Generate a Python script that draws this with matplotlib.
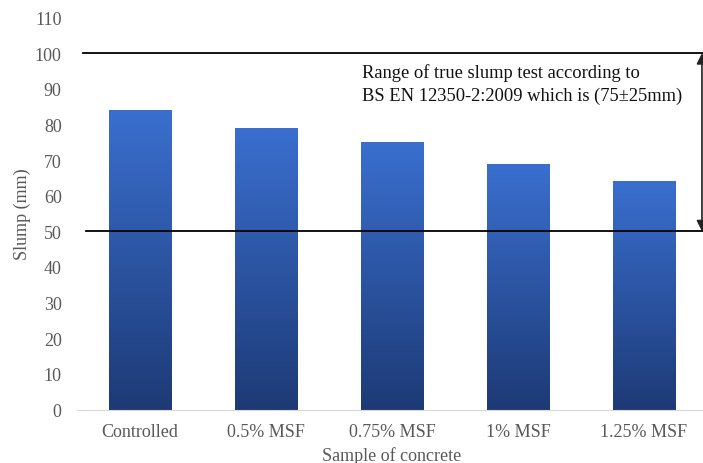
import matplotlib.pyplot as plt
import numpy as np
from matplotlib.colors import LinearSegmentedColormap

samples = ["Controlled", "0.5% MSF", "0.75% MSF", "1% MSF", "1.25% MSF"]
slump = [84, 79, 75, 69, 64]
range_low, range_high = 50, 100
note = "Range of true slump test according to\nBS EN 12350-2:2009 which is (75±25mm)"

plt.rcParams["font.family"] = ["Liberation Serif", "DejaVu Serif"]
grey = "#595959"

fig = plt.figure(figsize=(7.03, 4.64), dpi=100)
ax = fig.add_axes([77 / 703, 53.5 / 464, 630 / 703, 392 / 464])

x = np.arange(len(samples))
bars = ax.bar(x, slump, width=0.5, color="none", edgecolor="none")

# vertical blue gradient inside each bar
cmap = LinearSegmentedColormap.from_list("bar", ["#1d3a75", "#3a6fcf"])
grad = np.linspace(0, 1, 256).reshape(-1, 1)
for b in bars:
    bx, bw, bh = b.get_x(), b.get_width(), b.get_height()
    im = ax.imshow(grad, cmap=cmap, origin="lower", aspect="auto",
                   extent=(bx, bx + bw, 0, bh), zorder=2)
    im.set_clip_path(b)

ax.set_xlim(-0.5, len(samples) - 0.5)
ax.set_ylim(0, 110)
ax.set_yticks(np.arange(0, 111, 10))
ax.set_xticks(x)
ax.set_xticklabels(samples)
ax.tick_params(axis="both", length=0, labelsize=13, colors=grey)
ax.tick_params(axis="x", pad=10)
ax.tick_params(axis="y", pad=11)

for s in ["top", "right", "left"]:
    ax.spines[s].set_visible(False)
ax.spines["bottom"].set_color("#d9d9d9")

ax.set_ylabel("Slump (mm)", fontsize=13, color=grey, labelpad=3)
ax.set_xlabel("Sample of concrete", fontsize=13, color=grey, labelpad=4)

# limits of the accepted slump range
ax.plot([-0.45, 4.48], [range_high, range_high], color="black", lw=1.3, zorder=3, clip_on=False)
ax.plot([-0.43, 4.48], [range_low, range_low], color="black", lw=1.3, zorder=3, clip_on=False)
ax.annotate("", xy=(4.46, range_high), xytext=(4.46, range_low),
            arrowprops=dict(arrowstyle="<|-|>", color="#222222", lw=1.2,
                            mutation_scale=16, shrinkA=0, shrinkB=0),
            annotation_clip=False, zorder=4)
ax.text(1.76, 97.3, note, fontsize=13.3, color="#111111", va="top", ha="left",
        linespacing=1.45)

fig.savefig("out.png", dpi=100)
